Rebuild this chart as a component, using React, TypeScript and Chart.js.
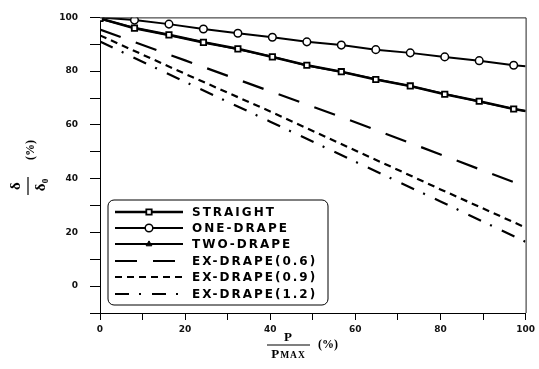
import React, { useEffect, useRef } from "react";
import { Chart, registerables } from "chart.js";

Chart.register(...registerables);

// x positions (% of Pmax) for the marker series
const solidX = [0, 8.1, 16.2, 24.3, 32.4, 40.5, 48.6, 56.7, 64.8, 72.9, 81, 89.1, 97.2, 100];
const straight = [99.6, 96.0, 93.5, 90.7, 88.3, 85.3, 82.2, 79.8, 76.9, 74.5, 71.4, 68.8, 65.9, 65.2];
const oneDrape = [100, 99.0, 97.5, 95.7, 94.1, 92.6, 90.9, 89.7, 88.0, 86.8, 85.3, 83.9, 82.2, 81.8];
const twoDrape = [99.5, 96.1, 93.4, 90.8, 88.1, 85.4, 82.1, 79.7, 77.0, 74.4, 71.5, 68.7, 66.0, 65.1];

const dashX = [0, 20, 40, 60, 80, 100];
const exDrape06 = [95.5, 84.0, 72.5, 61.0, 49.0, 37.0];
const exDrape09 = [93.3, 79.0, 65.0, 50.5, 36.0, 21.8];
const exDrape12 = [91.0, 76.0, 61.2, 46.3, 31.5, 16.5];

const seriesLabels = ["STRAIGHT", "ONE-DRAPE", "TWO-DRAPE", "EX-DRAPE(0.6)", "EX-DRAPE(0.9)", "EX-DRAPE(1.2)"];
const xTickLabels = ["0", "20", "40", "60", "80", "100"];
const yTickLabels = ["0", "20", "40", "60", "80", "100"];

const toPts = (xs: number[], ys: number[]) => ys.map((y, i) => ({ x: xs[i], y }));

export default function App() {
  const ref = useRef<HTMLCanvasElement | null>(null);

  useEffect(() => {
    if (!ref.current) return;
    const lastIdxRadius = (r: number) => (ctx: any) =>
      ctx.dataIndex === ctx.dataset.data.length - 1 ? 0 : r;

    const datasets: any[] = [
      {
        label: seriesLabels[0],
        data: toPts(solidX, straight),
        borderColor: "#000",
        borderWidth: 2.6,
        pointStyle: "rect",
        pointRadius: lastIdxRadius(3.8),
        pointBackgroundColor: "#fff",
        pointBorderColor: "#000",
        pointBorderWidth: 1.8,
      },
      {
        label: seriesLabels[1],
        data: toPts(solidX, oneDrape),
        borderColor: "#000",
        borderWidth: 2,
        pointStyle: "circle",
        pointRadius: lastIdxRadius(3.8),
        pointBackgroundColor: "#fff",
        pointBorderColor: "#000",
        pointBorderWidth: 1.5,
      },
      {
        label: seriesLabels[2],
        data: toPts(solidX, twoDrape),
        borderColor: "#000",
        borderWidth: 1.8,
        pointStyle: "triangle",
        pointRadius: lastIdxRadius(2.6),
        pointBackgroundColor: "#000",
        pointBorderColor: "#000",
        pointBorderWidth: 1,
      },
      {
        label: seriesLabels[3],
        data: toPts(dashX, exDrape06),
        borderColor: "#000",
        borderWidth: 2.2,
        borderDash: [22, 16],
        pointRadius: 0,
      },
      {
        label: seriesLabels[4],
        data: toPts(dashX, exDrape09),
        borderColor: "#000",
        borderWidth: 2.2,
        borderDash: [7, 5],
        pointRadius: 0,
      },
      {
        label: seriesLabels[5],
        data: toPts(dashX, exDrape12),
        borderColor: "#000",
        borderWidth: 2.2,
        borderDash: [14, 10, 2, 11],
        pointRadius: 0,
      },
    ];

    const decor = {
      id: "decor",
      afterDraw(chart: any) {
        const ctx = chart.ctx as CanvasRenderingContext2D;
        const a = chart.chartArea;
        ctx.save();
        // frame top & right
        ctx.strokeStyle = "#222";
        ctx.lineWidth = 1;
        ctx.beginPath();
        ctx.moveTo(a.left, a.top + 0.5);
        ctx.lineTo(a.right + 0.5, a.top + 0.5);
        ctx.lineTo(a.right + 0.5, a.bottom);
        ctx.stroke();

        // legend box
        const bx = 108, by = 200, bw = 220, bh = 105, r = 6;
        ctx.fillStyle = "#fff";
        ctx.beginPath();
        ctx.moveTo(bx + r, by);
        ctx.arcTo(bx + bw, by, bx + bw, by + bh, r);
        ctx.arcTo(bx + bw, by + bh, bx, by + bh, r);
        ctx.arcTo(bx, by + bh, bx, by, r);
        ctx.arcTo(bx, by, bx + bw, by, r);
        ctx.closePath();
        ctx.fill();
        ctx.strokeStyle = "#000";
        ctx.lineWidth = 1;
        ctx.stroke();

        const rowsY = [212, 228, 244, 261, 277, 294];
        chart.data.datasets.forEach((ds: any, i: number) => {
          const y = rowsY[i];
          ctx.save();
          ctx.strokeStyle = "#000";
          ctx.lineWidth = ds.borderWidth;
          ctx.setLineDash(ds.borderDash || []);
          ctx.beginPath();
          ctx.moveTo(115, y);
          ctx.lineTo(183, y);
          ctx.stroke();
          ctx.setLineDash([]);
          if (ds.pointStyle && i < 3) {
            const rad = i === 2 ? 2.6 : 3.8;
            ctx.fillStyle = ds.pointBackgroundColor;
            ctx.lineWidth = ds.pointBorderWidth;
            ctx.beginPath();
            if (ds.pointStyle === "rect") {
              const s = rad * Math.SQRT2;
              ctx.rect(149 - s / 2, y - s / 2, s, s);
            } else if (ds.pointStyle === "circle") {
              ctx.arc(149, y, rad, 0, Math.PI * 2);
            } else {
              ctx.moveTo(149, y - rad * 1.2);
              ctx.lineTo(149 + rad * 1.1, y + rad * 0.7);
              ctx.lineTo(149 - rad * 1.1, y + rad * 0.7);
              ctx.closePath();
            }
            ctx.fill();
            ctx.stroke();
          }
          ctx.fillStyle = "#000";
          ctx.font = "bold 12px 'DejaVu Sans'";
          (ctx as any).letterSpacing = "2px";
          ctx.textBaseline = "middle";
          ctx.textAlign = "left";
          ctx.fillText(ds.label, 192, y + 0.5);
          ctx.restore();
        });

        // x-axis title: P / PMAX (%)
        ctx.fillStyle = "#000";
        ctx.strokeStyle = "#000";
        ctx.textBaseline = "alphabetic";
        ctx.textAlign = "center";
        const cx = 288;
        ctx.font = "bold 13px 'Liberation Serif'";
        ctx.fillText("P", cx, 341);
        ctx.lineWidth = 1.2;
        ctx.beginPath();
        ctx.moveTo(267, 345);
        ctx.lineTo(310, 345);
        ctx.stroke();
        ctx.textAlign = "left";
        ctx.font = "bold 13px 'Liberation Serif'";
        const pw = ctx.measureText("P").width;
        ctx.font = "bold 9.5px 'Liberation Serif'";
        (ctx as any).letterSpacing = "1px";
        const mw = ctx.measureText("MAX").width;
        const sx = cx - (pw + mw) / 2;
        ctx.font = "bold 13px 'Liberation Serif'";
        (ctx as any).letterSpacing = "0px";
        ctx.fillText("P", sx, 358);
        ctx.font = "bold 9.5px 'Liberation Serif'";
        (ctx as any).letterSpacing = "1px";
        ctx.fillText("MAX", sx + pw + 1, 358);
        (ctx as any).letterSpacing = "0px";
        ctx.font = "bold 12px 'Liberation Serif'";
        ctx.fillText("(%)", 318, 348);

        // y-axis title: rotated fraction delta / delta0 (%)
        ctx.save();
        ctx.translate(28, 186);
        ctx.rotate(-Math.PI / 2);
        ctx.textAlign = "center";
        ctx.font = "bold 15px 'Liberation Serif'";
        ctx.fillText("δ", 0, -8);
        ctx.lineWidth = 1.2;
        ctx.beginPath();
        ctx.moveTo(-9, 0);
        ctx.lineTo(9, 0);
        ctx.stroke();
        ctx.fillText("δ₀", 1, 17);
        ctx.font = "bold 12px 'Liberation Serif'";
        ctx.fillText("(%)", 36, 6);
        ctx.restore();

        ctx.restore();
      },
    };

    const chart = new Chart(ref.current, {
      type: "line",
      data: { datasets },
      plugins: [decor],
      options: {
        animation: false,
        responsive: false,
        maintainAspectRatio: false,
        layout: { padding: { top: 12, right: 9, left: 0, bottom: 0 } },
        plugins: { legend: { display: false }, tooltip: { enabled: false } },
        elements: { line: { tension: 0 } },
        scales: {
          x: {
            type: "linear",
            min: 0,
            max: 100,
            afterFit: (s: any) => { s.height = 56; },
            ticks: {
              stepSize: 10,
              autoSkip: false,
              maxRotation: 0,
              padding: 4,
              color: "#111",
              font: { family: "'DejaVu Sans'", size: 9, weight: "bold" },
              callback: (v: any) => {
                const s = String(v);
                return xTickLabels.includes(s) ? s : "";
              },
            },
            grid: { drawOnChartArea: false, drawTicks: true, tickLength: 7, color: "#000" },
            border: { display: true, color: "#000", width: 1 },
          },
          y: {
            type: "linear",
            min: -10,
            max: 100,
            afterFit: (s: any) => { s.width = 100; },
            ticks: {
              stepSize: 10,
              autoSkip: false,
              padding: 12,
              color: "#111",
              font: { family: "'DejaVu Sans'", size: 9, weight: "bold" },
              callback: (v: any) => {
                const s = String(v);
                return yTickLabels.includes(s) ? s : "";
              },
            },
            grid: { drawOnChartArea: false, drawTicks: true, tickLength: 10, color: "#000" },
            border: { display: true, color: "#000", width: 1 },
          },
        },
      } as any,
    });
    return () => chart.destroy();
  }, []);

  return (
    <div style={{ position: "fixed", left: 0, top: 0, width: 539, height: 369, background: "#fff" }}>
      <canvas ref={ref} width={539} height={369} style={{ width: 539, height: 369, display: "block" }} />
    </div>
  );
}
